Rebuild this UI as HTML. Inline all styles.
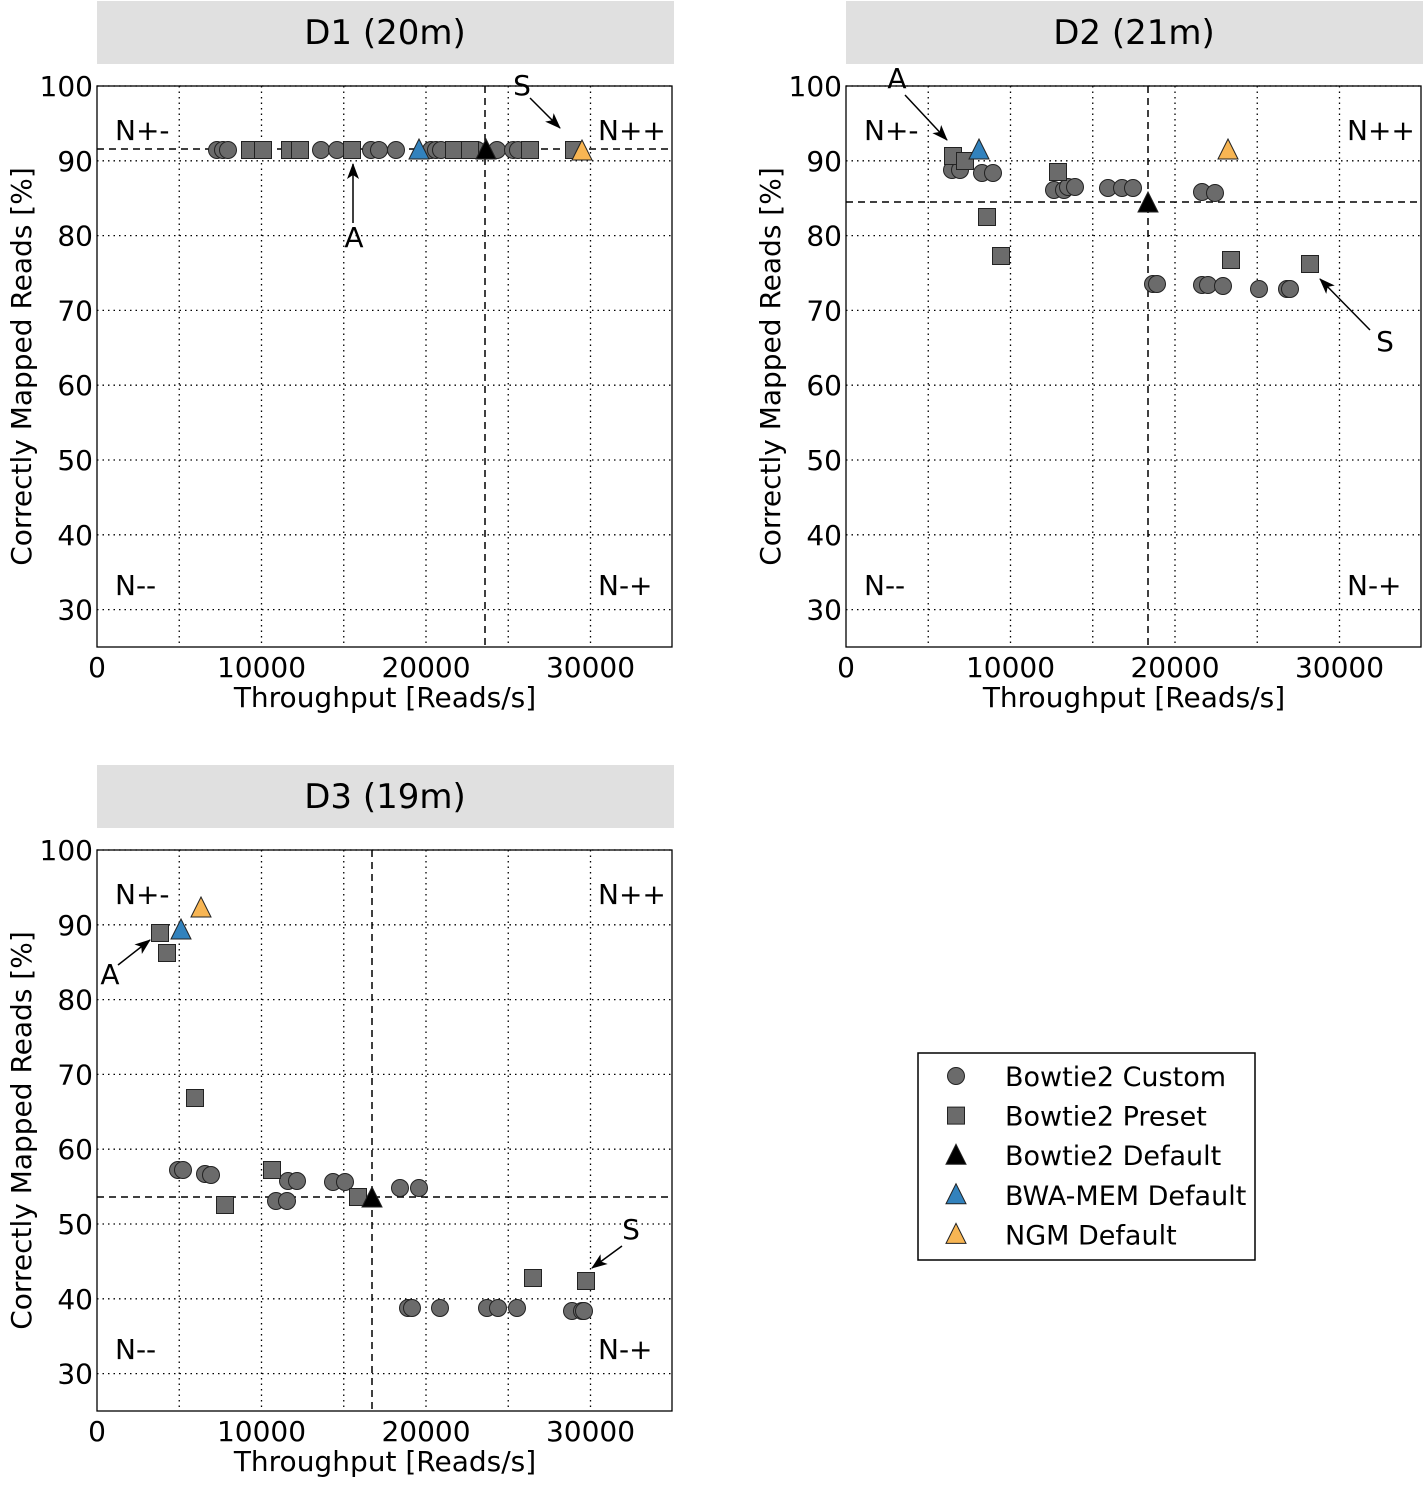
<!DOCTYPE html>
<html><head><meta charset="utf-8"><style>
body{margin:0;background:#fff}
svg text{font-family:"DejaVu Sans","Liberation Sans",sans-serif;fill:#000}
</style></head><body>
<svg id="s" width="1427" height="1487" viewBox="0 0 1427 1487" xmlns="http://www.w3.org/2000/svg">
<defs>
<marker id="ahb" markerWidth="16" markerHeight="16" refX="15" refY="8" orient="auto" markerUnits="userSpaceOnUse" viewBox="0 0 16 16"><path d="M0,2 L16,8 L0,14 L4,8 z" fill="#000"/></marker></defs>
</svg>
<script>
const S=document.getElementById('s');const NS='http://www.w3.org/2000/svg';
function el(t,a,txt){const e=document.createElementNS(NS,t);for(const k in a)e.setAttribute(k,a[k]);if(txt!=null)e.textContent=txt;S.appendChild(e);return e;}
function circ(x,y){el('circle',{cx:x,cy:y,r:8.5,fill:'#6b6b6b',stroke:'#222','stroke-width':1});}
function sq(x,y){el('rect',{x:x-8.5,y:y-8.5,width:17,height:17,fill:'#6b6b6b',stroke:'#222','stroke-width':1});}
function tri(x,y,c){el('polygon',{points:`${x-10},${y+9} ${x+10},${y+9} ${x},${y-11}`,fill:c,stroke:'#222','stroke-width':1});}
const F=28;
function panel(L,T,title,tx,hl,vl,ann){
 const R=L+575, k=74.8, B=T+7*k+37.4;
 el('rect',{x:L,y:T-85,width:577,height:63,fill:'#e0e0e0'});
 el('text',{x:L+288,y:T-42,'font-size':34,'text-anchor':'middle'},title);
 for(let i=1;i<7;i++){const gx=L+i*82.25;el('line',{x1:gx,y1:T,x2:gx,y2:B,stroke:'#000','stroke-width':1.3,'stroke-dasharray':'1.5,4'});}
 for(let v=30;v<=100;v+=10){const gy=T+(100-v)/10*k;el('line',{x1:L,y1:gy,x2:R,y2:gy,stroke:'#000','stroke-width':1.3,'stroke-dasharray':'1.5,4'});
  el('text',{x:L-4,y:gy+10,'font-size':F,'text-anchor':'end'},v);}
 [0,10000,20000,30000].forEach((v,i)=>el('text',{x:L+i*164.5,y:B+30,'font-size':F,'text-anchor':'middle'},v));
 el('text',{x:L+288,y:B+60,'font-size':F,'text-anchor':'middle'},'Throughput [Reads/s]');
 el('text',{x:0,y:0,'font-size':F,'text-anchor':'middle',transform:`translate(${L-66},${(T+B)/2}) rotate(-90)`},'Correctly Mapped Reads [%]');
 el('line',{x1:L,y1:hl,x2:R,y2:hl,stroke:'#000','stroke-width':1.5,'stroke-dasharray':'7,5'});
 el('line',{x1:vl,y1:T,x2:vl,y2:B,stroke:'#000','stroke-width':1.5,'stroke-dasharray':'7,5'});
 el('text',{x:L+18,y:T+54,'font-size':F},'N+-');el('text',{x:L+501,y:T+54,'font-size':F},'N++');
 el('text',{x:L+18,y:T+509,'font-size':F},'N--');el('text',{x:L+501,y:T+509,'font-size':F},'N-+');
 tx();
 ann.forEach(a=>{el('text',{x:a[0],y:a[1],'font-size':F,'text-anchor':'middle'},a[2]);el('line',{x1:a[3],y1:a[4],x2:a[5],y2:a[6],stroke:'#000','stroke-width':1.5,'marker-end':'url(#ahb)'});});
 el('rect',{x:L,y:T,width:575,height:B-T,fill:'none',stroke:'#000','stroke-width':1.3});
}
panel(97,86,'D1 (20m)',()=>{
 [217,223,228,321,337,371,379,396,431,436,441,477,497,513,518].forEach(x=>circ(x,150));
 [250,263,290,300,352,454,470,530,574].forEach(x=>sq(x,150));
 tri(419,150,'#3282bd');tri(486,150,'#000');tri(582,151,'#f7b553');
},149,485,[[522,95,'S',530,98,560,128],[354,247,'A',353,223,353,164]]);
panel(846,86,'D2 (21m)',()=>{
 [[952,170],[960,170],[982,173],[993,173],[1054,190],[1064,190],[1068,187],[1075,187],[1108,188],[1122,188],[1133,188],[1202,192],[1215,193],[1153,284],[1157,284],[1202,285],[1208,285],[1223,286],[1259,289],[1287,289],[1290,289]].forEach(p=>circ(p[0],p[1]));
 [[953,156],[965,161],[1058,172],[987,217],[1001,256],[1231,260],[1310,264]].forEach(p=>sq(p[0],p[1]));
 tri(979,150,'#3282bd');tri(1148,203,'#000');tri(1228,150,'#f7b553');
},202,1148,[[897,88,'A',905,95,947,140],[1385,351,'S',1370,330,1320,279]]);
panel(97,850,'D3 (19m)',()=>{
 [[178,1170],[183,1170],[205,1174],[211,1175],[276,1201],[287,1201],[288,1181],[297,1181],[333,1182],[345,1182],[400,1188],[419,1188],[408,1308],[412,1308],[440,1308],[487,1308],[498,1308],[517,1308],[572,1311],[582,1311],[584,1311]].forEach(p=>circ(p[0],p[1]));
 [[160,933],[167,953],[195,1098],[225,1205],[272,1170],[358,1197],[533,1278],[586,1281]].forEach(p=>sq(p[0],p[1]));
 tri(181,930,'#3282bd');tri(372,1198,'#000');tri(201,908,'#f7b553');
},1197,372,[[110,984,'A',118,965,150,940],[631,1239,'S',622,1246,592,1268]]);
el('rect',{x:918,y:1053,width:337,height:207,fill:'#fff',stroke:'#000','stroke-width':1.5});
const items=['Bowtie2 Custom','Bowtie2 Preset','Bowtie2 Default','BWA-MEM Default','NGM Default'];
items.forEach((t,i)=>{const y=1076+i*39.6;el('text',{x:1005,y:y+10,'font-size':27},t);
 if(i==0)circ(956,y);else if(i==1)sq(956,y);else tri(956,y,['#000','#3282bd','#f7b553'][i-2]);});
</script>
</body></html>
